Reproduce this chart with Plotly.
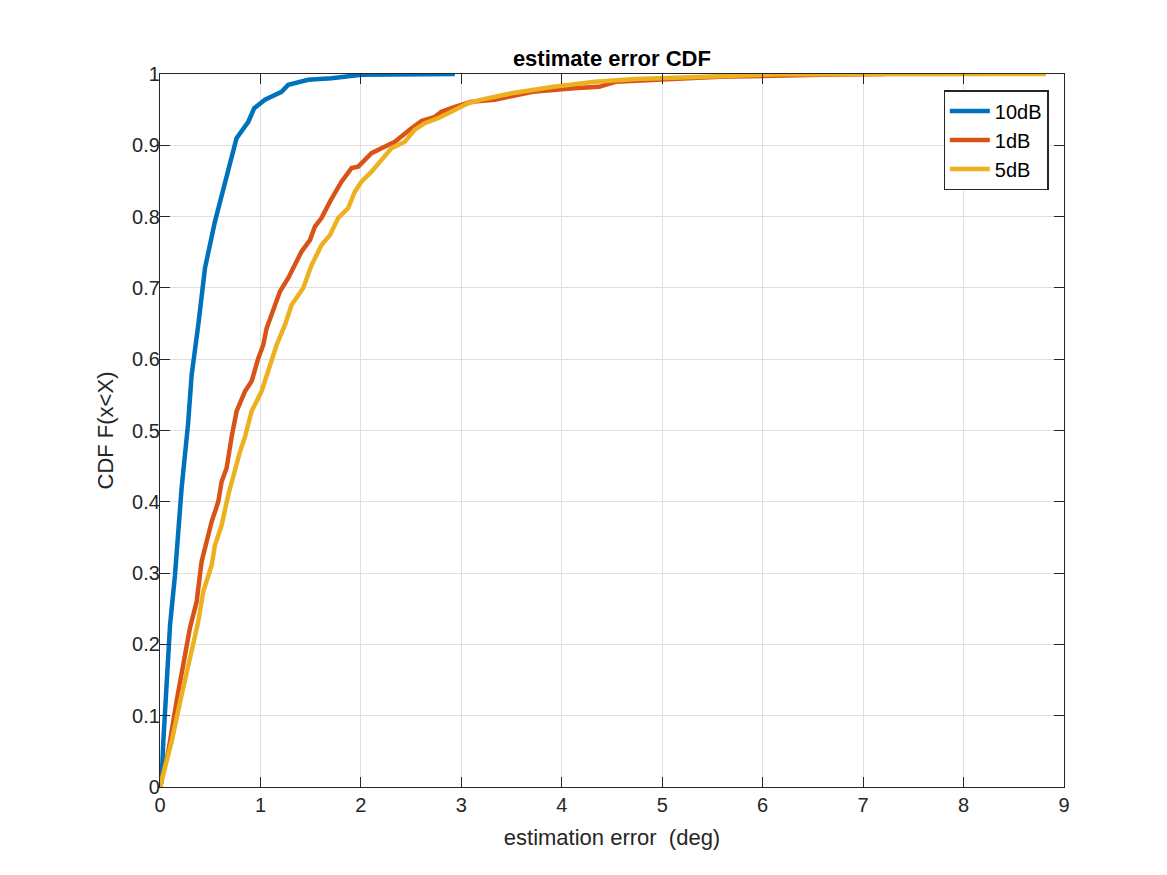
import plotly.graph_objects as go

# 10dB
x_10db = [0, 0.016, 0.033, 0.066, 0.083, 0.1, 0.149, 0.215, 0.28, 0.315, 0.381, 0.448, 0.547,
          0.647, 0.762, 0.879, 0.938, 1.045, 1.21, 1.277, 1.476, 1.707, 2.006, 2.935]
y_10db = [0, 0.008, 0.064, 0.157, 0.204, 0.227, 0.297, 0.419, 0.51, 0.578, 0.648, 0.728, 0.793,
          0.849, 0.910, 0.933, 0.952, 0.964, 0.975, 0.985, 0.992, 0.994, 0.999, 1.0]

# 1dB
x_1db = [0, 0.083, 0.165, 0.249, 0.298, 0.365, 0.414, 0.514, 0.58, 0.613, 0.663, 0.713, 0.763,
         0.846, 0.912, 0.978, 1.028, 1.061, 1.144, 1.194, 1.277, 1.343, 1.409, 1.493, 1.542,
         1.608, 1.692, 1.807, 1.907, 1.973, 2.106, 2.205, 2.338, 2.504, 2.603, 2.736, 2.802,
         2.935, 3.1, 3.333, 3.71, 4.12, 4.37, 4.535, 5.03, 5.567, 6.6, 7.22]
y_1db = [0, 0.05, 0.12, 0.185, 0.223, 0.26, 0.316, 0.372, 0.40, 0.428, 0.447, 0.491, 0.527,
         0.555, 0.569, 0.601, 0.62, 0.643, 0.676, 0.695, 0.714, 0.732, 0.751, 0.767, 0.786,
         0.798, 0.821, 0.849, 0.868, 0.870, 0.889, 0.896, 0.905, 0.924, 0.934, 0.940, 0.947,
         0.954, 0.961, 0.964, 0.975, 0.98, 0.982, 0.989, 0.993, 0.996, 0.999, 1.0]

# 5dB
x_5db = [0, 0.116, 0.215, 0.315, 0.381, 0.431, 0.514, 0.547, 0.613, 0.68, 0.746, 0.796, 0.846,
         0.912, 1.011, 1.078, 1.161, 1.244, 1.31, 1.426, 1.509, 1.608, 1.692, 1.774, 1.874,
         1.94, 2.006, 2.106, 2.205, 2.305, 2.438, 2.537, 2.637, 2.769, 2.869, 3.068, 3.2, 3.5,
         3.915, 4.33, 4.74, 5.36, 6.19, 8.82]
y_5db = [0, 0.064, 0.129, 0.195, 0.232, 0.274, 0.311, 0.339, 0.367, 0.41, 0.447, 0.47, 0.491,
         0.527, 0.555, 0.583, 0.62, 0.648, 0.676, 0.7, 0.732, 0.76, 0.774, 0.798, 0.812,
         0.835, 0.849, 0.863, 0.879, 0.896, 0.905, 0.922, 0.931, 0.938, 0.945, 0.959, 0.964,
         0.973, 0.982, 0.989, 0.993, 0.996, 0.9997, 1.0]

series = [
    ("10dB", x_10db, y_10db, "#0072BD"),
    ("1dB", x_1db, y_1db, "#D95319"),
    ("5dB", x_5db, y_5db, "#EDB120"),
]

FONT = "Liberation Sans, Arial, Helvetica, sans-serif"
AXC = "#262626"

fig = go.Figure()
for name, xs, ys, col in series:
    fig.add_trace(go.Scatter(x=xs, y=ys, mode="lines", name=name,
                             line=dict(color=col, width=4.5)))

axis_common = dict(
    showline=True, linecolor=AXC, linewidth=1.2, mirror="ticks",
    ticks="inside", ticklen=10, tickwidth=1.2, tickcolor=AXC,
    showgrid=True, gridcolor="#dfdfdf", gridwidth=1, zeroline=False,
    tickfont=dict(family=FONT, size=20, color=AXC),
)

fig.update_layout(
    width=1167, height=875,
    margin=dict(l=152, r=111, t=66, b=96),
    paper_bgcolor="white", plot_bgcolor="white",
    font=dict(family=FONT, color=AXC),
    title=dict(text="<b>estimate error CDF</b>", x=0.5175, xanchor="center",
               y=1 - 50 / 875, yanchor="middle", yref="container",
               font=dict(family=FONT, size=22, color="black")),
    xaxis=dict(range=[0, 9], dtick=1, tick0=0,
               title=dict(text="estimation error  (deg)", standoff=14,
                          font=dict(family=FONT, size=22, color=AXC)),
               **axis_common),
    yaxis=dict(range=[0, 1], dtick=0.1, tick0=0, ticklabelstandoff=-5,
               title=dict(text="CDF F(x<X)", standoff=12,
                          font=dict(family=FONT, size=22, color=AXC)),
               **axis_common),
    legend=dict(x=0.983, xanchor="right", y=0.977, yanchor="top",
                bgcolor="white", bordercolor=AXC, borderwidth=1.2,
                font=dict(family=FONT, size=20, color="black"),
                tracegroupgap=0, itemwidth=40),
    showlegend=True,
)

fig.write_html("out.html")
